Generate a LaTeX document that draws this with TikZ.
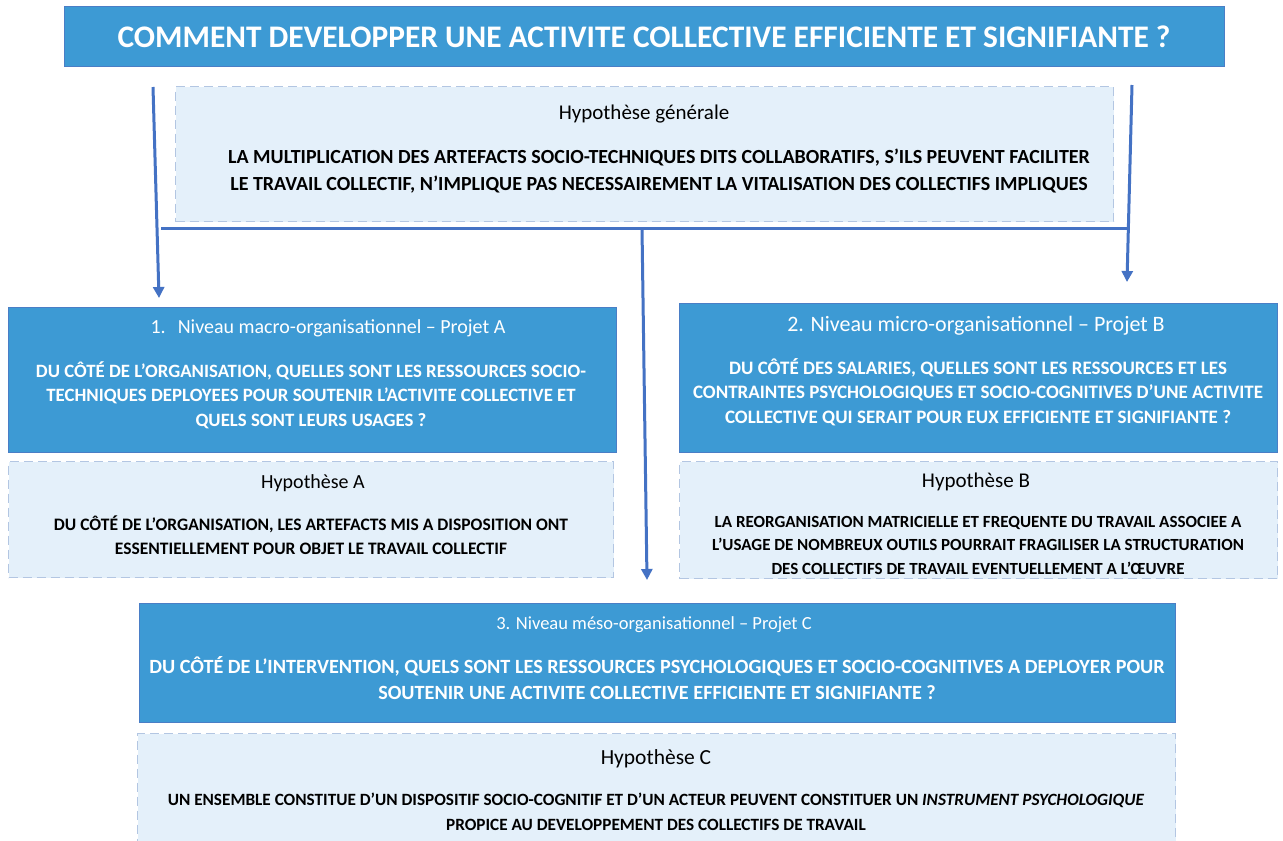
\documentclass[tikz,border=0pt]{standalone}
\usepackage{fontspec}
\setmainfont{Carlito}
\usetikzlibrary{arrows.meta}
\definecolor{boxblue}{HTML}{3D9AD4}
\definecolor{boxedge}{HTML}{4A7EC6}
\definecolor{lightfill}{HTML}{E4F0FA}
\definecolor{dashedge}{HTML}{B3C6E2}
\definecolor{arrowblue}{HTML}{4472C4}
\tikzset{
  bluebox/.style={draw=boxedge, line width=1pt, fill=boxblue, inner sep=0pt, anchor=north west},
  hypbox/.style={draw=dashedge, line width=1pt, dash pattern=on 9pt off 5pt, fill=lightfill, inner sep=0pt, anchor=north west},
  conn/.style={draw=arrowblue, line width=3pt},
  connarrow/.style={conn, -{Triangle[length=11pt,width=11pt]}},
  whitehead/.style={text=white, inner sep=0pt, font=\fontsize{20}{24}\selectfont},
  whitebody/.style={text=white, inner sep=0pt, align=center, font=\fontsize{18.8}{24.5}\selectfont\bfseries},
  blackhead/.style={text=black, inner sep=0pt, font=\fontsize{20.5}{24}\selectfont},
  blackbody/.style={text=black, inner sep=0pt, align=center, font=\fontsize{17.5}{24.5}\selectfont\bfseries},
}
\begin{document}
\begin{tikzpicture}[x=1pt,y=-1pt]
\useasboundingbox[fill=white] (0,0) rectangle (1283,841);
% title
\node[bluebox, minimum width=1160pt, minimum height=60pt] (title) at (64,6) {};
\node[text=white, inner sep=0pt, font=\fontsize{31.4}{36}\selectfont\bfseries] (titletext) at (644,37) {COMMENT DEVELOPPER UNE ACTIVITE COLLECTIVE EFFICIENTE ET SIGNIFIANTE ?};
% general hypothesis
\node[hypbox, minimum width=938pt, minimum height=135pt] (hypg) at (175,86) {};
\node[blackhead, font=\fontsize{21}{24}\selectfont] (hypghead) at (644,114) {Hypothèse générale};
\node[blackbody, font=\fontsize{20}{27.5}\selectfont\bfseries] (hypgbody) at (659,171) {LA MULTIPLICATION DES ARTEFACTS SOCIO-TECHNIQUES DITS COLLABORATIFS, S’ILS PEUVENT FACILITER\\LE TRAVAIL COLLECTIF, N’IMPLIQUE PAS NECESSAIREMENT LA VITALISATION DES COLLECTIFS IMPLIQUES};
% box 1
\node[bluebox, minimum width=608pt, minimum height=145pt] (boxa) at (8,307) {};
\node[whitehead] (boxahead) at (328,328) {1.\hspace{0.6em}Niveau macro-organisationnel – Projet A};
\node[whitebody] (boxabody) at (311,395) {DU CÔTÉ DE L’ORGANISATION, QUELLES SONT LES RESSOURCES SOCIO-\\TECHNIQUES DEPLOYEES POUR SOUTENIR L’ACTIVITE COLLECTIVE ET\\QUELS SONT LEURS USAGES ?};
\node[hypbox, minimum width=605pt, minimum height=116pt] (hypa) at (8,461) {};
\node[blackhead, font=\fontsize{20}{24}\selectfont] (hypahead) at (313,483) {Hypothèse A};
\node[blackbody] (hypabody) at (311,535) {DU CÔTÉ DE L’ORGANISATION, LES ARTEFACTS MIS A DISPOSITION ONT\\ESSENTIELLEMENT POUR OBJET LE TRAVAIL COLLECTIF};
% box 2
\node[bluebox, minimum width=598pt, minimum height=149pt] (boxb) at (679,303) {};
\node[whitehead, font=\fontsize{22}{25}\selectfont] (boxbhead) at (976,326) {2. Niveau micro-organisationnel – Projet B};
\node[whitebody, font=\fontsize{19}{24.5}\selectfont\bfseries] (boxbbody) at (978,392) {DU CÔTÉ DES SALARIES, QUELLES SONT LES RESSOURCES ET LES\\CONTRAINTES PSYCHOLOGIQUES ET SOCIO-COGNITIVES D’UNE ACTIVITE\\COLLECTIVE QUI SERAIT POUR EUX EFFICIENTE ET SIGNIFIANTE ?};
\node[hypbox, minimum width=598pt, minimum height=117pt] (hypb) at (679,461) {};
\node[blackhead, font=\fontsize{21}{24}\selectfont] (hypbhead) at (976,482) {Hypothèse B};
\node[blackbody, font=\fontsize{17}{23.5}\selectfont\bfseries] (hypbbody) at (978,545) {LA REORGANISATION MATRICIELLE ET FREQUENTE DU TRAVAIL ASSOCIEE A\\L’USAGE DE NOMBREUX OUTILS POURRAIT FRAGILISER LA STRUCTURATION\\DES COLLECTIFS DE TRAVAIL EVENTUELLEMENT A L’ŒUVRE};
% box 3
\node[bluebox, minimum width=1036pt, minimum height=119pt] (boxc) at (139,603) {};
\node[whitehead, font=\fontsize{18.5}{22}\selectfont] (boxchead) at (654,625) {3. Niveau méso-organisationnel – Projet C};
\node[whitebody, font=\fontsize{20.2}{26}\selectfont\bfseries] (boxcbody) at (657,678) {DU CÔTÉ DE L’INTERVENTION, QUELS SONT LES RESSOURCES PSYCHOLOGIQUES ET SOCIO-COGNITIVES A DEPLOYER POUR\\SOUTENIR UNE ACTIVITE COLLECTIVE EFFICIENTE ET SIGNIFIANTE ?};
\node[hypbox, minimum width=1038pt, minimum height=115pt] (hypc) at (137,733) {};
\node[blackhead, font=\fontsize{21.5}{25}\selectfont] (hypchead) at (656,759) {Hypothèse C};
\node[blackbody, font=\fontsize{17.2}{25}\selectfont\bfseries] (hypcbody) at (656,812) {UN ENSEMBLE CONSTITUE D’UN DISPOSITIF SOCIO-COGNITIF ET D’UN ACTEUR PEUVENT CONSTITUER UN \textit{INSTRUMENT PSYCHOLOGIQUE}\\PROPICE AU DEVELOPPEMENT DES COLLECTIFS DE TRAVAIL};
% connectors
\coordinate (lstart) at (153,87);
\coordinate (lend) at (159,298);
\coordinate (rstart) at (1132,85);
\coordinate (rend) at (1127,282);
\coordinate (hleft) at (161,228);
\coordinate (hright) at (1129,228);
\coordinate (mstart) at (642,228);
\coordinate (mend) at (647,580);
\draw[connarrow] (lstart) -- (lend);
\draw[connarrow] (rstart) -- (rend);
\draw[conn] (hleft) -- (hright);
\draw[connarrow] (mstart) -- (mend);
\end{tikzpicture}
\end{document}
